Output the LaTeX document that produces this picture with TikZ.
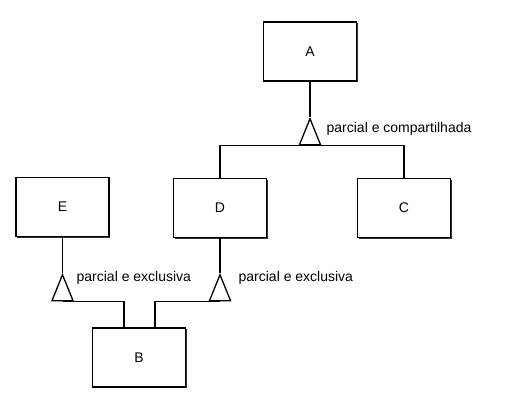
\documentclass[tikz,border=0pt]{standalone}
\usepackage{fontspec}
\setmainfont{Liberation Sans}
\usepackage{tikz}
\usetikzlibrary{positioning, shapes}
\usetikzlibrary{shadows}

\begin{document}
\begin{tikzpicture}[x=1pt,y=-1pt, line width=1.3pt, font=\fontsize{14}{16}\selectfont]
            \tikzset{entity/.style = {draw, fill=white, minimum width=93pt, minimum height=59pt, inner sep=0pt,
                     drop shadow={shadow xshift=1.2pt, shadow yshift=-1.2pt, fill=black!80, opacity=1}}}
            \tikzset{gen/.style = {draw, fill=white, isosceles triangle, shape border rotate=90,
                     isosceles triangle stretches, minimum width=21pt, minimum height=26pt, inner sep=0pt}}
            \tikzset{lbl/.style = {inner sep=0pt, anchor=base west}}

            \useasboundingbox (0,0) rectangle (506,411);

            \node[entity] (A) at (310,51.5) {A};
            \node[entity] (D) at (220,208) {D};
            \node[entity] (C) at (404,208) {C};
            \node[entity] (E) at (62.5,207) {E};
            \node[entity] (B) at (139,357.5) {B};

            % generalizations
            \node[gen, anchor=apex] (tA) at (310,117) {};
            \node[gen, anchor=apex] (tE) at (62.5,273) {};
            \node[gen, anchor=apex] (tD) at (220,273) {};

            \draw (A.south) -- (tA.apex);
            \draw (D.north) |- (tA.lower side) -| (C.north);
            \draw (E.south) -- (tE.apex);
            \draw (D.south) -- (tD.apex);
            \draw (tE.lower side) -| ([xshift=-15pt]B.north);
            \draw (tD.lower side) -| ([xshift=16pt]B.north);

            % labels
            \node[lbl] (lblA) at (326,133) {parcial e compartilhada};
            \node[lbl] (lblE) at (76,282) {parcial e exclusiva};
            \node[lbl] (lblD) at (238,282) {parcial e exclusiva};

        \end{tikzpicture}
\end{document}
